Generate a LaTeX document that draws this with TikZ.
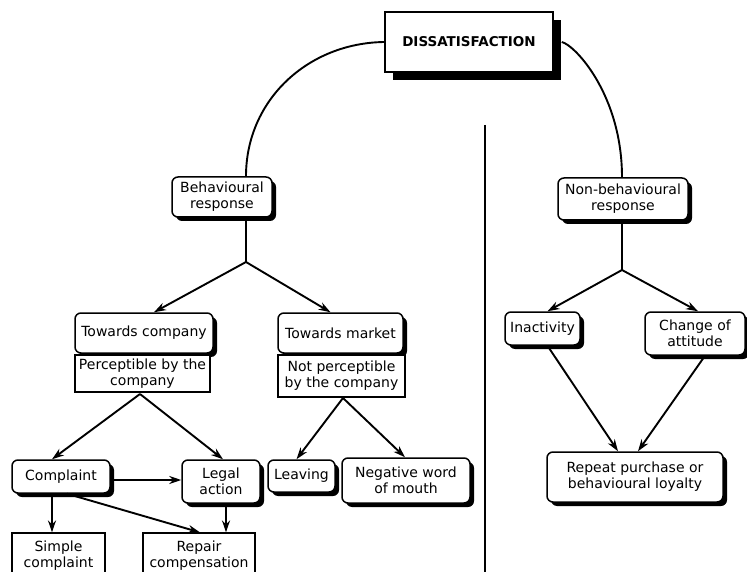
\documentclass[tikz,border=0pt]{standalone}
\usepackage{fontspec}
\setmainfont{DejaVu Sans}
\usetikzlibrary{arrows.meta,shadows}
\begin{document}
\begin{tikzpicture}[x=1pt,y=-1pt,
 every node/.style={font=\fontsize{14}{16}\selectfont, align=center, inner sep=0pt},
 rbox/.style={draw, line width=1.5pt, rounded corners=6pt, fill=white,
   drop shadow={shadow xshift=4pt, shadow yshift=-4pt, opacity=1, fill=black}},
 sbox/.style={draw, line width=1.2pt, fill=white},
 arr/.style={line width=1.9pt, -{Stealth[length=12pt,width=8pt]}},
 ln/.style={line width=1.9pt}]
\useasboundingbox (0,0) rectangle (747,572);
\fill[white] (0,0) rectangle (747,572);

% top
\node[draw, line width=1.5pt, fill=white, minimum width=168pt, minimum height=60pt,
  drop shadow={shadow xshift=8pt, shadow yshift=-8pt, opacity=1, fill=black},
  font=\fontsize{13.5}{16}\selectfont\bfseries] (dis) at (469,42) {DISSATISFACTION};

\node[rbox, minimum width=100pt, minimum height=40pt] (beh) at (222,197) {Behavioural\\response};
\node[rbox, minimum width=130pt, minimum height=42pt] (nonbeh) at (623,199) {Non-behavioural\\response};

\coordinate (b1) at (246,262);
\coordinate (b2) at (622,270);

\draw[ln] (dis.west) .. controls (308,43) and (246,100) .. (beh.north -| b1);
\draw[ln] ([xshift=8pt]dis.east) .. controls (575,45) and (622,95) .. (nonbeh.north -| b2);

% divider
\draw[line width=2.5pt] (485,125) -- (485,572);

% behavioural side
\node[rbox, minimum width=138pt, minimum height=40pt] (tc) at (144,333) {Towards company};
\node[sbox, minimum width=135pt, minimum height=37pt] (pc) at (142.5,373.5) {Perceptible by the\\company};
\node[rbox, minimum width=125pt, minimum height=40pt] (tm) at (340.5,333) {Towards market};
\node[sbox, minimum width=127pt, minimum height=42pt] (np) at (341.5,376) {Not perceptible\\by the company};

\draw[ln] (b1 |- beh.south) -- (b1);
\draw[arr] (b1) -- ([xshift=10pt]tc.north);
\draw[arr] (b1) -- ([xshift=-10pt]tm.north);

\node[rbox, minimum width=98pt, minimum height=33pt] (comp) at (61,476.5) {Complaint};
\node[rbox, minimum width=78pt, minimum height=43pt] (legal) at (221,481.5) {Legal\\action};
\node[rbox, minimum width=67pt, minimum height=32pt] (leav) at (301.5,476) {Leaving};
\node[rbox, minimum width=128pt, minimum height=45pt] (neg) at (406,480.5) {Negative word\\of mouth};
\node[sbox, minimum width=93pt, minimum height=45pt] (simple) at (58.5,555.5) {Simple\\complaint};
\node[sbox, minimum width=112pt, minimum height=45pt] (repair) at (199,555.5) {Repair\\compensation};

\coordinate (b3) at (140,394);
\coordinate (b4) at (343,398);
\draw[arr] (b3) -- ([xshift=-9pt]comp.north);
\draw[arr] (b3) -- ([xshift=2pt]legal.north);
\draw[arr] (b4) -- ([xshift=-5pt]leav.north);
\draw[arr] (b4) -- ([xshift=-1pt]neg.north);

\draw[arr] (comp.east |- 0,480) -- (legal.west |- 0,480);
\draw[arr] ([xshift=-9pt]comp.south) -- ([xshift=-6.5pt]simple.north);
\draw[arr] ([xshift=6pt]comp.south) -- ([xshift=1pt]repair.north);
\draw[arr] ([xshift=5pt]legal.south) -- ([xshift=27pt]repair.north);

% non-behavioural side
\node[rbox, minimum width=75pt, minimum height=33pt] (inact) at (542.5,328.5) {Inactivity};
\node[rbox, minimum width=100pt, minimum height=43pt] (change) at (695,333.5) {Change of\\attitude};
\node[rbox, minimum width=176pt, minimum height=50pt] (repeat) at (635,477) {Repeat purchase or\\behavioural loyalty};

\draw[ln] (b2 |- nonbeh.south) -- (b2);
\draw[arr] (b2) -- ([xshift=5pt]inact.north);
\draw[arr] (b2) -- ([xshift=3pt]change.north);
\draw[arr] ([xshift=5pt]inact.south) -- ([xshift=-17pt]repeat.north);
\draw[arr] ([xshift=10pt]change.south) -- ([xshift=3pt]repeat.north);
\end{tikzpicture}
\end{document}
